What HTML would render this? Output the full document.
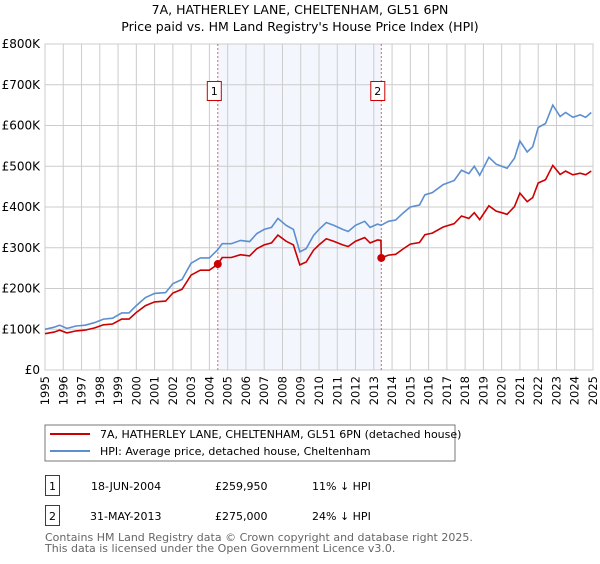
<!DOCTYPE html>
<html><head><meta charset="utf-8"><style>
body{margin:0;background:#fff;font-family:"DejaVu Sans","Liberation Sans",sans-serif;}
svg text{font-family:"DejaVu Sans","Liberation Sans",sans-serif;}
</style></head><body>
<svg id="chart" width="600" height="560" viewBox="0 0 600 560">
<text x="300" y="14" text-anchor="middle" font-size="12.5">7A, HATHERLEY LANE, CHELTENHAM, GL51 6PN</text>
<text x="300" y="31" text-anchor="middle" font-size="12.5">Price paid vs. HM Land Registry's House Price Index (HPI)</text>
<g id="plot"></g>
<rect x="45" y="425" width="410" height="36" fill="#fff" stroke="#777"/>
<line x1="50" y1="434" x2="90" y2="434" stroke="#cc0000" stroke-width="2"/>
<text x="100" y="438" font-size="11">7A, HATHERLEY LANE, CHELTENHAM, GL51 6PN (detached house)</text>
<line x1="50" y1="451" x2="90" y2="451" stroke="#5b8fd0" stroke-width="2"/>
<text x="100" y="455" font-size="11">HPI: Average price, detached house, Cheltenham</text>
<g font-size="11">
<rect x="45.5" y="475.5" width="14" height="20" fill="none" stroke="#cc0000"/>
<text x="52.5" y="490" text-anchor="middle">1</text>
<text x="91" y="490">18-JUN-2004</text>
<text x="215" y="490">£259,950</text>
<text x="312" y="490">11% ↓ HPI</text>
<rect x="45.5" y="505.5" width="14" height="20" fill="none" stroke="#cc0000"/>
<text x="52.5" y="520" text-anchor="middle">2</text>
<text x="90" y="520">31-MAY-2013</text>
<text x="215" y="520">£275,000</text>
<text x="312" y="520">24% ↓ HPI</text>
</g>
<text x="45" y="541" font-size="11" fill="#666">Contains HM Land Registry data © Crown copyright and database right 2025.</text>
<text x="45" y="552" font-size="11" fill="#666">This data is licensed under the Open Government Licence v3.0.</text>
</svg>
<script>
const hpiDates=[1995.0,1995.5,1995.8,1996.2,1996.7,1997.2,1997.7,1998.2,1998.7,1999.2,1999.6,2000.0,2000.5,2001.0,2001.6,2002.0,2002.5,2003.0,2003.5,2004.0,2004.45,2004.7,2005.2,2005.7,2006.2,2006.6,2007.0,2007.4,2007.75,2008.2,2008.6,2008.95,2009.3,2009.7,2010.0,2010.4,2010.8,2011.3,2011.6,2012.0,2012.5,2012.8,2013.2,2013.4,2013.8,2014.2,2014.6,2015.0,2015.5,2015.8,2016.2,2016.8,2017.4,2017.8,2018.2,2018.5,2018.8,2019.3,2019.7,2020.0,2020.3,2020.7,2021.0,2021.4,2021.7,2022.0,2022.4,2022.8,2023.2,2023.5,2023.9,2024.3,2024.6,2024.9];
const hpiValues=[100,105,110,102,108,110,116,125,127,140,140,158,178,188,190,212,222,262,275,275,295,310,310,318,315,335,345,350,372,355,345,290,298,330,345,362,355,345,340,355,365,350,358,355,365,368,385,400,405,430,435,455,465,490,482,500,478,522,505,500,495,520,562,535,548,595,605,650,622,632,620,626,620,632];
const priceDates=[1995.0,1995.5,1995.8,1996.2,1996.7,1997.2,1997.7,1998.2,1998.7,1999.2,1999.6,2000.0,2000.5,2001.0,2001.6,2002.0,2002.5,2003.0,2003.5,2004.0,2004.46,2004.7,2005.2,2005.7,2006.2,2006.6,2007.0,2007.4,2007.75,2008.2,2008.6,2008.95,2009.3,2009.7,2010.0,2010.4,2010.8,2011.3,2011.6,2012.0,2012.5,2012.8,2013.2,2013.39,2013.41,2013.8,2014.2,2014.6,2015.0,2015.5,2015.8,2016.2,2016.8,2017.4,2017.8,2018.2,2018.5,2018.8,2019.3,2019.7,2020.0,2020.3,2020.7,2021.0,2021.4,2021.7,2022.0,2022.4,2022.8,2023.2,2023.5,2023.9,2024.3,2024.6,2024.9];
const priceValues=[89,93,98,91,96,98,103,111,113,125,125,141,158,167,169,189,198,233,245,245,260,276,276,283,280,298,307,312,331,316,307,258,265,294,307,322,316,307,303,316,325,312,319,318,275,282,284,297,309,313,332,336,351,359,378,372,386,369,403,390,386,382,401,434,413,423,459,467,502,480,488,479,483,479,488];
const saleDates=[2004.46,2013.41];
const saleValues=[260,275];
const saleLabels=["1","2"];
const yTicks=[0,100,200,300,400,500,600,700,800];
const yTickLabels=["£0","£100K","£200K","£300K","£400K","£500K","£600K","£700K","£800K"];
const xYears=[1995,1996,1997,1998,1999,2000,2001,2002,2003,2004,2005,2006,2007,2008,2009,2010,2011,2012,2013,2014,2015,2016,2017,2018,2019,2020,2021,2022,2023,2024,2025];

const L=45,R=593,T=44,B=370,NS="http://www.w3.org/2000/svg";
const xs=d=>L+(d-1995)/(2025-1995)*(R-L);
const ys=v=>B-v/800*(B-T);
const g=document.getElementById('plot');
function mk(tag,attrs){const e=document.createElementNS(NS,tag);for(const k in attrs)e.setAttribute(k,attrs[k]);g.appendChild(e);return e;}
let sh=mk('rect',{x:xs(saleDates[0]),y:T,width:xs(saleDates[1])-xs(saleDates[0]),height:B-T,fill:'#eef3fc',opacity:0.7});


xYears.forEach(y=>{const l=mk('line',{x1:xs(y),x2:xs(y),y1:T,y2:B,stroke:'#ccc','stroke-width':1});


const t=mk('text',{x:0,y:0,'font-size':11.5,'text-anchor':'end',transform:`translate(${xs(y)+4},${B+6}) rotate(-90)`});t.textContent=y;

});
yTicks.forEach((v,i)=>{const l=mk('line',{x1:L,x2:R,y1:ys(v),y2:ys(v),stroke:'#ccc','stroke-width':1});


const t=mk('text',{x:40,y:ys(v)+4,'font-size':12,'text-anchor':'end'});t.textContent=yTickLabels[i];

});
const ax=mk('rect',{x:L,y:T,width:R-L,height:B-T,fill:'none',stroke:'#ccc'});


saleDates.forEach((d,i)=>{const l=mk('line',{x1:xs(d),x2:xs(d),y1:T,y2:B,stroke:'#e06060','stroke-dasharray':'2,2','stroke-width':1});

});
const pts=(ds,vs)=>ds.map((d,i)=>xs(d).toFixed(1)+','+ys(vs[i]).toFixed(1)).join(' ');
const h=mk('polyline',{points:pts(hpiDates,hpiValues),fill:'none',stroke:'#5b8fd0','stroke-width':1.6});


const p=mk('polyline',{points:pts(priceDates,priceValues),fill:'none',stroke:'#cc0000','stroke-width':1.6});


saleDates.forEach((d,i)=>{const c=mk('circle',{cx:xs(d),cy:ys(saleValues[i]),r:4,fill:'#cc0000'});


const b=mk('rect',{x:xs(d)-10.5,y:81.5,width:14,height:19,fill:'#fff',stroke:'#cc0000'});


const t=mk('text',{x:xs(d)-3.5,y:95,'font-size':11,'text-anchor':'middle'});t.textContent=saleLabels[i];

});
</script>
</body></html>
